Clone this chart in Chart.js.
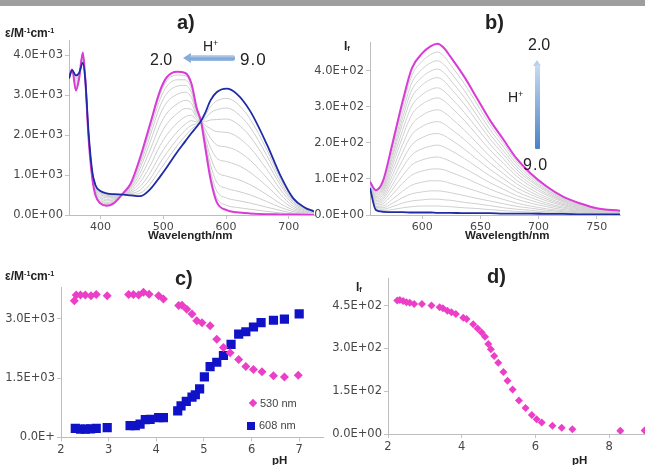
<!DOCTYPE html>
<html>
<head>
<meta charset="utf-8">
<script src="https://cdn.jsdelivr.net/npm/chart.js@4.4.1/dist/chart.umd.min.js"></script>
<style>
  html, body { margin: 0; padding: 0; width: 645px; height: 465px; overflow: hidden; background: #fff; }
  canvas { position: absolute; }
  .t { position: absolute; white-space: nowrap; line-height: 1; font-family: 'Liberation Sans', Arial, sans-serif; color: #222; }
  .b { font-weight: bold; }
  sup { font-size: 60%; vertical-align: 0.55em; line-height: 0; }
  sub { font-size: 60%; vertical-align: -0.2em; line-height: 0; }
</style>
</head>
<body>
<div style="position:absolute;left:0;top:0;width:645px;height:6px;background:#9e9e9e"></div>

<canvas id="ca" width="322" height="205" style="left:0;top:30px"></canvas>
<canvas id="cb" width="326" height="205" style="left:300px;top:30px"></canvas>
<canvas id="cc" width="330" height="185" style="left:0;top:270px"></canvas>
<canvas id="cd" width="380" height="190" style="left:320px;top:265px"></canvas>

<!-- panel a texts -->
<div class="t b" style="left:177px;top:12px;font-size:20px">a)</div>
<div class="t b" style="left:5px;top:27px;font-size:12px">ε/M<sup>-1</sup>cm<sup>-1</sup></div>
<div class="t" style="left:150px;top:52px;font-size:16px">2.0</div>
<div class="t" style="left:203px;top:39px;font-size:14px">H<sup>+</sup></div>
<div class="t" style="left:240px;top:51px;font-size:17px;letter-spacing:1px">9.0</div>
<div style="position:absolute;left:183px;top:53px;width:0;height:0;border-top:5px solid transparent;border-bottom:5px solid transparent;border-right:8px solid #86acd8"></div>
<div style="position:absolute;left:190px;top:55px;width:45px;height:6px;border-radius:2px;background:linear-gradient(to bottom,#c3d7ee,#7ea6d6 60%,#9dbde2)"></div>
<div class="t b" style="left:148px;top:230px;font-size:11.5px">Wavelength/nm</div>

<!-- panel b texts -->
<div class="t b" style="left:485px;top:12px;font-size:20px">b)</div>
<div class="t b" style="left:344px;top:40px;font-size:12px">I<sub>f</sub></div>
<div class="t" style="left:528px;top:37px;font-size:16px">2.0</div>
<div class="t" style="left:508px;top:90px;font-size:14px">H<sup>+</sup></div>
<div class="t" style="left:523px;top:157px;font-size:16px;letter-spacing:1px">9.0</div>
<div style="position:absolute;left:533px;top:60px;width:0;height:0;border-left:4.5px solid transparent;border-right:4.5px solid transparent;border-bottom:6px solid #b5cfec"></div>
<div style="position:absolute;left:535px;top:65px;width:5px;height:84px;border-radius:1px;background:linear-gradient(to bottom,#c7dbf1,#4b82c3)"></div>
<div class="t b" style="left:465px;top:230px;font-size:11.5px">Wavelength/nm</div>

<!-- panel c texts -->
<div class="t b" style="left:175px;top:268px;font-size:20px">c)</div>
<div class="t b" style="left:5px;top:270px;font-size:12px">ε/M<sup>-1</sup>cm<sup>-1</sup></div>
<div class="t b" style="left:272px;top:455px;font-size:11.5px">pH</div>
<div style="position:absolute;left:250px;top:400px;width:6px;height:6px;background:#ec3fc8;transform:rotate(45deg)"></div>
<div class="t" style="left:260px;top:398px;font-size:11px;color:#444">530 nm</div>
<div style="position:absolute;left:247px;top:422px;width:8px;height:8px;background:#1012c8"></div>
<div class="t" style="left:259px;top:420px;font-size:11px;color:#444">608 nm</div>

<!-- panel d texts -->
<div class="t b" style="left:487px;top:266px;font-size:20px">d)</div>
<div class="t b" style="left:356px;top:281px;font-size:12px">I<sub>f</sub></div>
<div class="t b" style="left:572px;top:455px;font-size:11.5px">pH</div>

<script>
// a) absorption spectra, pH 2.0 (magenta), pH 9.0 (blue) and intermediate pH (grey)
var aWavelength = [350, 355, 361, 366, 372, 376, 381, 387, 392, 400, 410, 421, 437, 448, 463, 479, 495, 506, 522, 535, 545, 553, 560, 567, 575, 585, 601, 617, 638, 665, 686, 707, 725, 740];
var aPh2 = [3450, 3640, 3110, 3400, 4060, 3370, 1950, 920, 500, 290, 230, 290, 560, 780, 1425, 2270, 3110, 3450, 3580, 3550, 3280, 2690, 2350, 1680, 920, 330, 120, 70, 40, 20, 15, 10, 5, 0];
var aPh9 = [3410, 3620, 3490, 3550, 3800, 3370, 2100, 1090, 750, 600, 540, 520, 510, 490, 470, 640, 960, 1200, 1570, 1840, 2050, 2200, 2350, 2560, 2860, 3070, 3160, 3030, 2610, 1765, 1005, 415, 190, 90];
var aMid = [
  [3450, 3640, 3125, 3405, 4050, 3370, 1955, 925, 510, 300, 240, 300, 560, 770, 1385, 2205, 3025, 3360, 3500, 3480, 3230, 2670, 2350, 1715, 1000, 440, 240, 190, 145, 90, 55, 25, 12, 4],
  [3445, 3640, 3150, 3415, 4035, 3370, 1965, 935, 525, 320, 260, 315, 555, 750, 1330, 2105, 2895, 3225, 3380, 3380, 3155, 2640, 2350, 1770, 1115, 605, 425, 365, 300, 195, 115, 50, 25, 9],
  [3445, 3635, 3180, 3425, 4015, 3370, 1975, 950, 545, 345, 285, 330, 550, 730, 1255, 1975, 2725, 3045, 3220, 3240, 3060, 2600, 2350, 1840, 1270, 825, 665, 600, 505, 335, 195, 85, 40, 16],
  [3440, 3635, 3215, 3440, 3985, 3370, 1990, 970, 570, 375, 315, 355, 545, 700, 1160, 1815, 2510, 2820, 3015, 3070, 2935, 2555, 2350, 1925, 1465, 1095, 970, 900, 760, 510, 290, 125, 55, 25],
  [3435, 3630, 3260, 3460, 3955, 3370, 2010, 990, 600, 415, 355, 380, 540, 665, 1045, 1620, 2250, 2550, 2775, 2865, 2790, 2495, 2350, 2030, 1695, 1425, 1335, 1255, 1070, 720, 410, 170, 80, 36],
  [3430, 3630, 3310, 3480, 3925, 3370, 2030, 1010, 630, 450, 390, 410, 535, 630, 930, 1420, 1990, 2280, 2535, 2660, 2640, 2435, 2350, 2140, 1930, 1755, 1700, 1610, 1375, 925, 530, 220, 100, 47],
  [3425, 3625, 3355, 3495, 3895, 3370, 2045, 1030, 660, 490, 430, 435, 530, 595, 815, 1225, 1735, 2010, 2295, 2455, 2495, 2375, 2350, 2245, 2160, 2085, 2065, 1965, 1685, 1135, 650, 270, 125, 58],
  [3420, 3625, 3395, 3510, 3865, 3370, 2060, 1050, 690, 525, 465, 465, 525, 565, 710, 1050, 1500, 1760, 2075, 2270, 2360, 2325, 2350, 2340, 2375, 2385, 2400, 2290, 1970, 1330, 760, 315, 145, 68],
  [3415, 3625, 3430, 3525, 3840, 3370, 2075, 1065, 710, 550, 490, 485, 520, 535, 620, 900, 1305, 1560, 1890, 2115, 2245, 2280, 2350, 2420, 2550, 2630, 2675, 2555, 2200, 1485, 845, 350, 160, 76],
  [3415, 3620, 3460, 3540, 3820, 3370, 2090, 1075, 730, 575, 515, 500, 515, 515, 545, 770, 1130, 1380, 1730, 1975, 2150, 2240, 2350, 2490, 2705, 2850, 2915, 2795, 2405, 1625, 925, 385, 175, 83]
];
var aXTicks = [400, 500, 600, 700];
var aYTicks = [0, 1000, 2000, 3000, 4000];

// b) emission spectra
var bWavelength = [555, 560, 566, 574, 583, 591, 600, 607, 613, 619, 624, 636, 647, 658, 670, 681, 693, 707, 721, 736, 750, 770];
var bPh2 = [92, 69, 93, 194, 315, 407, 449, 468, 475, 462, 440, 384, 324, 264, 208, 157, 116, 79, 51, 32, 19, 12];
var bPh9 = [75, 14, 9, 8, 8, 7, 7, 7, 6, 6, 6, 5, 5, 5, 4, 4, 4, 3, 3, 2, 2, 2];
var bMid = [
  [91, 66, 89, 185, 300, 387, 427, 445, 452, 439, 418, 365, 308, 251, 198, 149, 110, 75, 49, 31, 18, 12],
  [90, 64, 85, 175, 284, 367, 405, 422, 428, 416, 397, 346, 292, 238, 188, 142, 105, 71, 46, 29, 17, 11],
  [89, 61, 80, 166, 269, 347, 383, 399, 405, 394, 375, 327, 276, 225, 177, 134, 99, 68, 44, 28, 16, 11],
  [89, 58, 76, 157, 254, 327, 361, 376, 381, 371, 353, 308, 260, 212, 167, 126, 94, 64, 41, 26, 16, 10],
  [88, 55, 71, 146, 235, 303, 334, 348, 353, 343, 327, 285, 241, 197, 155, 117, 87, 59, 39, 24, 15, 9],
  [87, 51, 66, 134, 217, 279, 308, 320, 325, 316, 301, 263, 222, 181, 143, 108, 80, 55, 36, 22, 14, 9],
  [85, 48, 60, 121, 195, 251, 277, 288, 292, 284, 271, 236, 200, 163, 128, 97, 72, 49, 32, 20, 12, 8],
  [84, 44, 54, 108, 174, 223, 246, 256, 259, 252, 240, 210, 177, 145, 114, 87, 64, 44, 29, 18, 11, 7],
  [83, 40, 48, 95, 152, 195, 215, 224, 226, 220, 210, 183, 155, 127, 100, 76, 57, 39, 26, 16, 10, 7],
  [82, 36, 43, 82, 131, 167, 184, 191, 194, 188, 180, 157, 133, 109, 86, 65, 49, 33, 22, 14, 9, 6],
  [81, 32, 37, 69, 109, 139, 153, 159, 161, 156, 149, 130, 110, 90, 71, 54, 41, 28, 19, 12, 8, 5],
  [79, 28, 31, 56, 88, 111, 122, 127, 128, 125, 119, 104, 88, 72, 57, 44, 33, 23, 15, 10, 6, 5],
  [78, 24, 25, 43, 66, 83, 91, 95, 95, 93, 88, 77, 66, 54, 43, 33, 25, 17, 12, 8, 5, 4],
  [77, 21, 20, 32, 48, 59, 64, 67, 67, 65, 62, 54, 46, 39, 31, 24, 19, 13, 9, 6, 4, 3],
  [76, 18, 16, 23, 33, 39, 42, 44, 44, 42, 41, 35, 31, 26, 20, 16, 13, 9, 7, 4, 3, 3],
  [76, 16, 12, 15, 20, 23, 25, 25, 25, 24, 23, 20, 18, 15, 12, 10, 8, 6, 5, 3, 3, 2]
];
var bXTicks = [600, 650, 700, 750];
var bYTicks = [0, 100, 200, 300, 400];

// c) absorbance vs pH
var c530Ph = [2.28, 2.32, 2.41, 2.51, 2.63, 2.74, 2.97, 3.42, 3.52, 3.63, 3.73, 3.85, 4.05, 4.15, 4.47, 4.54, 4.64, 4.75, 4.85, 4.96, 5.13, 5.27, 5.41, 5.55, 5.73, 5.88, 6.04, 6.22, 6.46, 6.69, 6.98];
var c530Eps = [3450, 3600, 3600, 3600, 3580, 3610, 3580, 3610, 3610, 3600, 3670, 3620, 3580, 3500, 3330, 3340, 3240, 3120, 2950, 2900, 2820, 2480, 2270, 2140, 1970, 1790, 1720, 1660, 1560, 1530, 1570];
var c608Ph = [2.30, 2.41, 2.51, 2.62, 2.74, 2.97, 3.45, 3.56, 3.66, 3.77, 3.87, 4.05, 4.15, 4.45, 4.52, 4.63, 4.75, 4.82, 4.91, 5.01, 5.13, 5.27, 5.41, 5.57, 5.73, 5.88, 6.04, 6.20, 6.46, 6.69, 7.00];
var c608Eps = [230, 210, 210, 220, 230, 250, 300, 300, 340, 450, 460, 500, 500, 670, 800, 910, 1020, 1080, 1230, 1530, 1790, 1900, 2070, 2350, 2610, 2670, 2790, 2900, 2960, 2990, 3120];
var cXTicks = [2, 3, 4, 5, 6, 7];
var cYTicks = [0, 1500, 3000];

// d) emission intensity vs pH
var dPh = [2.25, 2.32, 2.41, 2.50, 2.59, 2.71, 2.92, 3.18, 3.40, 3.49, 3.61, 3.72, 3.84, 4.04, 4.13, 4.31, 4.43, 4.54, 4.63, 4.72, 4.79, 4.88, 4.99, 5.13, 5.24, 5.38, 5.55, 5.73, 5.90, 6.03, 6.17, 6.46, 6.71, 7.00, 8.30, 8.96];
var dIf = [468, 470, 466, 462, 460, 456, 456, 450, 444, 441, 432, 427, 421, 407, 403, 385, 370, 356, 341, 315, 297, 273, 250, 217, 187, 156, 117, 91, 67, 52, 40, 29, 22, 17, 11, 12];
var dXTicks = [2, 4, 6, 8, 10];
var dYTicks = [0, 150, 300, 450];

Chart.defaults.font.family = "'DejaVu Sans', sans-serif";
Chart.defaults.animation = false;
Chart.defaults.plugins.legend.display = false;
Chart.defaults.plugins.tooltip.enabled = false;

function sci(v) {
  var s = v.toExponential(1).split('e');
  var e = parseInt(s[1], 10);
  return s[0] + 'E' + (e < 0 ? '-' : '+') + (Math.abs(e) < 10 ? '0' : '') + Math.abs(e);
}

function pts(xs, ys) {
  return xs.map(function (x, i) { return { x: x, y: ys[i] }; });
}

function axis(min, max, list, o) {
  return {
    type: 'linear',
    min: min,
    max: max,
    afterBuildTicks: function (s) { s.ticks = list.map(function (v) { return { value: v }; }); },
    afterFit: function (s) {
      if (o.w) s.width = o.w;
      if (o.h) s.height = o.h;
    },
    grid: { drawOnChartArea: false, tickLength: 4, color: '#c4c4c4' },
    border: { color: '#bdbdbd' },
    ticks: {
      color: '#474747',
      padding: o.pad || 2,
      autoSkip: false,
      maxRotation: 0,
      font: { size: o.size || 10 },
      callback: o.fmt || function (v) { return v; }
    }
  };
}

function line(xs, ys, color, width) {
  return {
    data: pts(xs, ys),
    borderColor: color,
    borderWidth: width,
    pointRadius: 0,
    fill: false,
    cubicInterpolationMode: 'monotone'
  };
}

// panel a
var aSets = [line(aWavelength, aPh9, '#1d2ba6', 1.8), line(aWavelength, aPh2, '#d93bd6', 2)];
aMid.forEach(function (g) { aSets.push(line(aWavelength, g, '#cdcdcd', 1)); });
new Chart(document.getElementById('ca'), {
  type: 'line',
  data: { datasets: aSets },
  options: {
    responsive: false,
    devicePixelRatio: 1,
    layout: { padding: { top: 10, right: 8, left: 0, bottom: 0 } },
    scales: {
      x: axis(350, 740, aXTicks, { h: 20, size: 11 }),
      y: axis(0, 4375, aYTicks, { w: 69, size: 11.5, fmt: sci })
    }
  }
});

// panel b
var bSets = [line(bWavelength, bPh9, '#1d2ba6', 1.8), line(bWavelength, bPh2, '#d93bd6', 2)];
bMid.forEach(function (g) { bSets.push(line(bWavelength, g, '#d0d0d0', 1)); });
new Chart(document.getElementById('cb'), {
  type: 'line',
  data: { datasets: bSets },
  options: {
    responsive: false,
    devicePixelRatio: 1,
    layout: { padding: { top: 12, right: 6, left: 0, bottom: 0 } },
    scales: {
      x: axis(555, 770, bXTicks, { h: 20, size: 11 }),
      y: axis(0, 480, bYTicks, { w: 70, size: 11.5, fmt: sci })
    }
  }
});

// panel c
new Chart(document.getElementById('cc'), {
  type: 'scatter',
  data: {
    datasets: [
      { data: pts(c530Ph, c530Eps), pointStyle: 'rectRot', radius: 4.5, backgroundColor: '#ec3fc8', borderWidth: 0 },
      { data: pts(c608Ph, c608Eps), pointStyle: 'rect', radius: 6.5, backgroundColor: '#1012c8', borderWidth: 0 }
    ]
  },
  options: {
    responsive: false,
    devicePixelRatio: 1,
    layout: { padding: { top: 17, right: 7, left: 0, bottom: 0 } },
    scales: {
      x: axis(2, 7.5, cXTicks, { h: 17.5, size: 11.5 }),
      y: axis(0, 3800, cYTicks, { w: 61, size: 11.5, fmt: function (v) { return v === 0 ? '0.0E+' : sci(v); } })
    }
  }
});

// panel d
new Chart(document.getElementById('cd'), {
  type: 'scatter',
  data: {
    datasets: [
      { data: pts(dPh, dIf), pointStyle: 'rectRot', radius: 4, backgroundColor: '#ec3fc8', borderWidth: 0 }
    ]
  },
  options: {
    responsive: false,
    devicePixelRatio: 1,
    layout: { padding: { top: 13.5, right: 17, left: 0, bottom: 0 } },
    scales: {
      x: axis(2, 10, dXTicks, { h: 21, size: 11.5 }),
      y: axis(0, 545, dYTicks, { w: 68, size: 11.5, fmt: sci })
    }
  }
});
</script>
</body>
</html>
